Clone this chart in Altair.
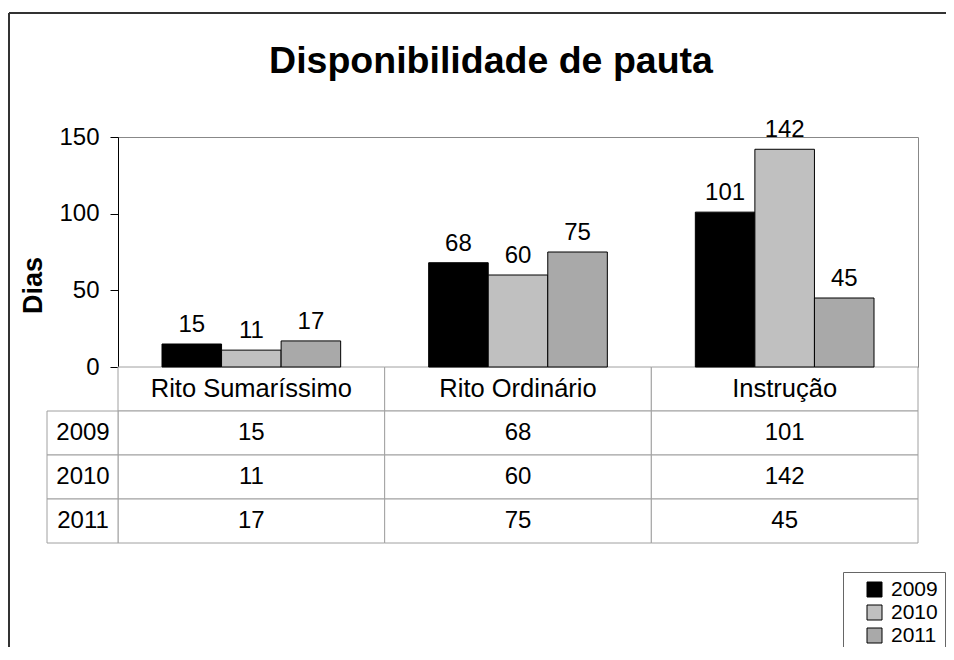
import altair as alt
import pandas as pd

categories = ["Rito Sumaríssimo", "Rito Ordinário", "Instrução"]
years = ["2009", "2010", "2011"]
v2009 = [15, 68, 101]
v2010 = [11, 60, 142]
v2011 = [17, 75, 45]
colors = ["#000000", "#c0c0c0", "#a9a9a9"]
title_text = "Disponibilidade de pauta"

FONT = "Liberation Sans"

rows = []
for yr, vals in zip(years, [v2009, v2010, v2011]):
    for c, v in zip(categories, vals):
        rows.append({"categoria": c, "ano": yr, "dias": v})
df = pd.DataFrame(rows)

hdf = pd.DataFrame({"linha": ["cat"] * len(categories), "categoria": categories,
                    "texto": categories})
trows = []
for yr, vals in zip(years, [v2009, v2010, v2011]):
    for c, v in zip(categories, vals):
        trows.append({"linha": yr, "categoria": c, "texto": str(v)})
tdf = pd.DataFrame(trows)
alldf = pd.concat([hdf, tdf], ignore_index=True)
ydf = pd.DataFrame({"linha": years, "texto": years})
titledf = pd.DataFrame({"texto": [title_text]})

xbar = alt.X("categoria:N", sort=categories,
             scale=alt.Scale(domain=categories, paddingInner=0.33, paddingOuter=0.165),
             axis=None)
xoff = alt.XOffset("ano:N", scale=alt.Scale(domain=years, paddingInner=0, paddingOuter=0))
ybar = alt.Y("dias:Q", scale=alt.Scale(domain=[0, 150]),
             axis=alt.Axis(values=[0, 50, 100, 150], grid=False, domainColor="#000000",
                           tickColor="#000000", tickSize=8, labelFontSize=24,
                           labelFont=FONT, labelColor="#000000", labelPadding=11,
                           title="Dias", titleFont=FONT, titleFontSize=27,
                           titleFontWeight="bold", titleColor="#000000",
                           titleAngle=270, titleX=-85, titleY=148,
                           titleAlign="center", titleBaseline="middle"))

bars = alt.Chart(df).mark_bar(stroke="#000000", strokeWidth=1).encode(
    x=xbar, xOffset=xoff, y=ybar,
    color=alt.Color("ano:N", scale=alt.Scale(domain=years, range=colors),
                    legend=alt.Legend(title=None, orient="none", legendX=725, legendY=435,
                                      symbolType="square", symbolSize=225,
                                      symbolStrokeColor="#000000", symbolStrokeWidth=1,
                                      labelFont=FONT, labelFontSize=21, labelColor="#000000",
                                      rowPadding=1, padding=7, symbolOffset=14,
                                      labelOffset=6, strokeColor="#666666",
                                      fillColor="#ffffff")),
)

labels = alt.Chart(df).mark_text(baseline="alphabetic", dy=-12, fontSize=24, font=FONT,
                                 color="#000000").encode(
    x=xbar, xOffset=xoff,
    y=alt.Y("dias:Q", scale=alt.Scale(domain=[0, 150]), axis=None),
    text="dias:Q",
)

xtab = alt.X("categoria:N", sort=categories,
             scale=alt.Scale(domain=categories, paddingInner=0, paddingOuter=0), axis=None)
ytab = alt.Y("linha:N", scale=alt.Scale(domain=["cat"] + years, range=[230, 406],
                                        paddingInner=0, paddingOuter=0), axis=None)

cells = alt.Chart(alldf).mark_rect(fill="#ffffff", stroke="#a0a0a0", strokeWidth=1).encode(
    x=xtab, y=ytab)
htext = alt.Chart(hdf).mark_text(fontSize=25.5, font=FONT, color="#000000",
                                 baseline="middle").encode(x=xtab, y=ytab, text="texto:N")
ctext = alt.Chart(tdf).mark_text(fontSize=24, font=FONT, color="#000000",
                                 baseline="middle").encode(x=xtab, y=ytab, text="texto:N")

ycells = alt.Chart(ydf).mark_rect(fill="#ffffff", stroke="#a0a0a0", strokeWidth=1).encode(
    x=alt.value(-71), x2=alt.value(0), y=ytab)
ytext = alt.Chart(ydf).mark_text(fontSize=24, font=FONT, color="#000000",
                                 baseline="middle").encode(
    x=alt.value(-35), y=ytab, text="texto:N")

title = alt.Chart(titledf).mark_text(fontSize=37.5, fontWeight="bold", font=FONT,
                                     color="#000000", baseline="alphabetic",
                                     align="center").encode(
    x=alt.value(373), y=alt.value(-64), text="texto:N")

frame_v = alt.Chart(ydf).mark_rule(color="#333333", strokeWidth=2).encode(
    x=alt.value(-109), y=alt.value(-124), y2=alt.value(540))
frame_h = alt.Chart(ydf).mark_rule(color="#333333", strokeWidth=2).encode(
    y=alt.value(-124), x=alt.value(-109), x2=alt.value(850))

chart = alt.layer(
    frame_v, frame_h, title, cells, htext, ctext, ycells, ytext, bars, labels
).resolve_scale(
    x="independent", y="independent"
).properties(
    width=800, height=230,
    padding={"left": 110, "top": 129, "right": 28, "bottom": 280},
    autosize=alt.AutoSizeParams(type="none"),
).configure_view(stroke="#888888")

chart.save("out.html", embed_options={"renderer": "svg", "actions": False})
